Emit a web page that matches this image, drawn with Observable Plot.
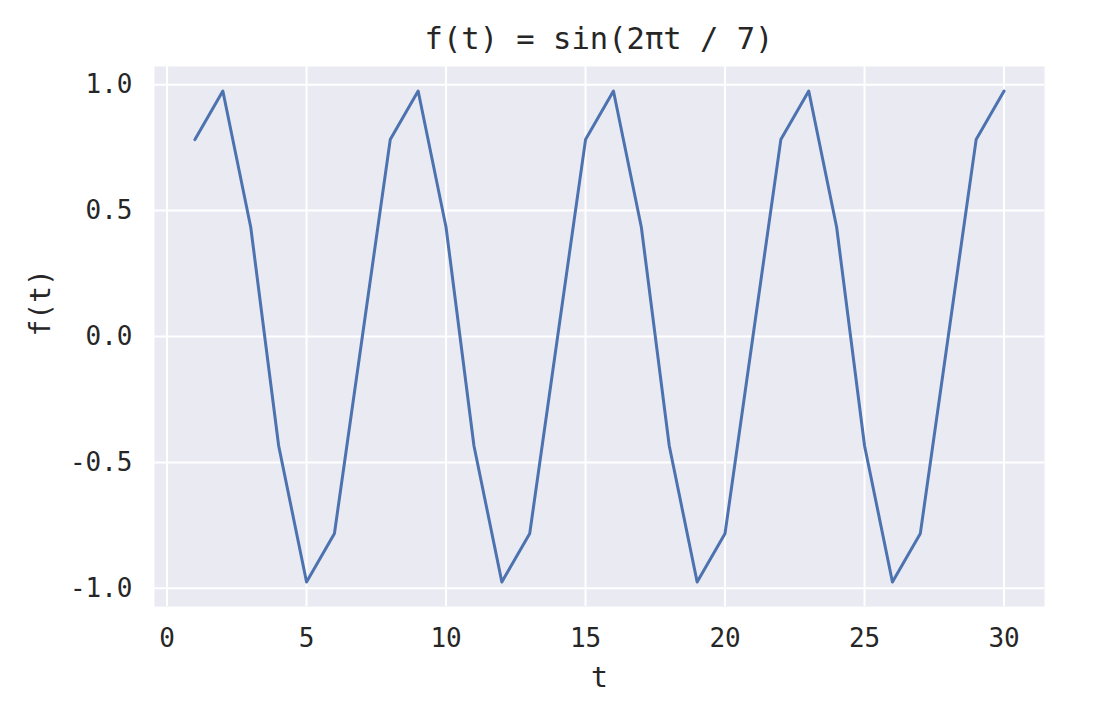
<!DOCTYPE html>
<html>
<head>
<meta charset="utf-8">
<script src="https://cdn.jsdelivr.net/npm/d3@7"></script>
<script src="https://cdn.jsdelivr.net/npm/@observablehq/plot@0.6"></script>
<style>
  body { margin: 0; background: #ffffff; }
  #title {
    height: 66px; width: 1110px; box-sizing: border-box;
    padding-left: 88px; padding-top: 22px;
    text-align: center; font-family: "DejaVu Sans Mono", monospace;
    font-size: 30.5px; line-height: 34px; color: #262626;
  }
</style>
</head>
<body>
<div id="title">f(t) = sin(2πt / 7)</div>
<div id="chart"></div>
<script>
const titleText = "f(t) = sin(2πt / 7)";
const tValues = [1,2,3,4,5,6,7,8,9,10,11,12,13,14,15,16,17,18,19,20,21,22,23,24,25,26,27,28,29,30];
const fValues = [0.782,0.975,0.434,-0.434,-0.975,-0.782,0.0,
                 0.782,0.975,0.434,-0.434,-0.975,-0.782,0.0,
                 0.782,0.975,0.434,-0.434,-0.975,-0.782,0.0,
                 0.782,0.975,0.434,-0.434,-0.975,-0.782,0.0,
                 0.782,0.975];
const xTicks = [0,5,10,15,20,25,30];
const yTicks = [-1.0,-0.5,0.0,0.5,1.0];
const xLabel = "t";
const yLabel = "f(t)";

const data = tValues.map((t, i) => ({t, f: fValues[i]}));
const font = "DejaVu Sans Mono, monospace";

const chart = Plot.plot({
  width: 1110,
  height: 654,
  marginTop: 0,
  marginLeft: 154,
  marginRight: 66,
  marginBottom: 114,
  style: {fontFamily: font, fontSize: "26px", color: "#262626", background: "transparent"},
  x: {domain: [-0.45, 31.45], ticks: xTicks, tickSize: 0, tickPadding: 22, label: null, tickFormat: d => String(d)},
  y: {domain: [-1.0724, 1.0724], ticks: yTicks, tickSize: 0, tickPadding: 22, label: null,
      tickFormat: d => d.toFixed(1)},
  marks: [
    Plot.frame({fill: "#EAEAF2", stroke: null}),
    Plot.gridX(xTicks, {stroke: "#ffffff", strokeWidth: 2, strokeOpacity: 1}),
    Plot.gridY(yTicks, {stroke: "#ffffff", strokeWidth: 2, strokeOpacity: 1}),
    Plot.line(data, {x: "t", y: "f", stroke: "#4C72B0", strokeWidth: 3}),
    Plot.text([yLabel], {frameAnchor: "left", dx: -113, rotate: -90, text: d => d, fontSize: 28, fill: "#262626"}),
    Plot.text([xLabel], {frameAnchor: "bottom", dy: 80, text: d => d, fontSize: 28, fill: "#262626"})
  ]
});
document.getElementById("chart").appendChild(chart);
</script>
</body>
</html>
